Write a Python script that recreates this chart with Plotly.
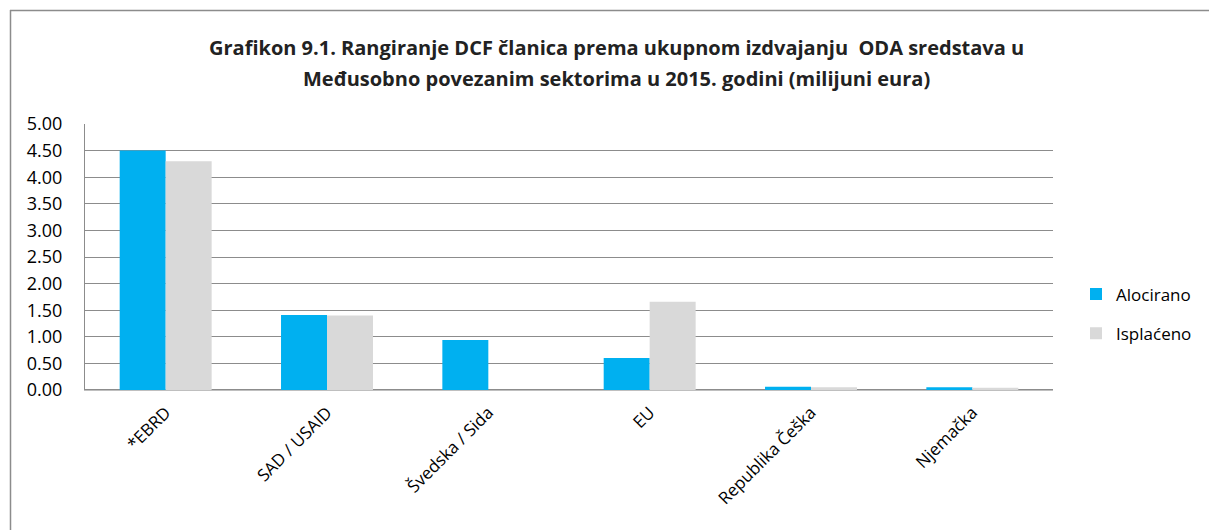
import plotly.graph_objects as go

categories = ["*EBRD", "SAD / USAID", "Švedska / Sida", "EU", "Republika Češka", "Njemačka"]
alocirano = [4.50, 1.41, 0.94, 0.60, 0.06, 0.05]
isplaceno = [4.30, 1.40, 0.0, 1.66, 0.05, 0.04]
y_ticks = [0, 0.5, 1, 1.5, 2, 2.5, 3, 3.5, 4, 4.5, 5]
title_lines = [
    "Grafikon 9.1. Rangiranje DCF članica prema ukupnom izdvajanju  ODA sredstava u",
    "Međusobno povezanim sektorima u 2015. godini (milijuni eura)",
]

FONT = "Open Sans"
L, R, T, B = 85, 156, 124, 140
PW, PH = 1209 - L - R, 530 - T - B


def px_x(p):
    return (p - L) / PW


def px_y(p):
    return (530 - B - p) / PH


fig = go.Figure()
fig.add_trace(go.Bar(x=categories, y=alocirano, name="Alocirano", marker_color="#00B0F0",
                     marker_line_width=0, legendgroup="a"))
fig.add_trace(go.Bar(x=categories, y=isplaceno, name="Isplaćeno", marker_color="#D9D9D9",
                     marker_line_width=0, legendgroup="b"))

annotations = [
    dict(text="<b>%s</b>" % t, xref="paper", yref="paper", x=px_x(616), y=px_y(yy),
         xanchor="center", yanchor="middle", showarrow=False,
         font=dict(family=FONT, size=20, color="#222"))
    for t, yy in zip(title_lines, [47, 78])
]

border = dict(color="#8C8C8C", width=1.5)
shapes = [
    dict(type="line", xref="paper", yref="paper", x0=px_x(10), x1=px_x(1260),
         y0=px_y(10.5), y1=px_y(10.5), line=border),
    dict(type="line", xref="paper", yref="paper", x0=px_x(10.5), x1=px_x(10.5),
         y0=px_y(10), y1=px_y(560), line=border),
]

fig.update_layout(
    width=1209, height=530,
    margin=dict(l=L, r=R, t=T, b=B, autoexpand=False),
    paper_bgcolor="white", plot_bgcolor="white",
    barmode="group", bargap=0.43, bargroupgap=0,
    font=dict(family=FONT, size=17, color="black"),
    annotations=annotations,
    shapes=shapes,
    legend=dict(x=px_x(1076), y=px_y(314), xanchor="left", yanchor="middle",
                font=dict(size=17), traceorder="grouped", tracegroupgap=14,
                itemwidth=30),
    showlegend=True,
    xaxis=dict(showline=True, linecolor="#BFBFBF", linewidth=1, ticks="",
               tickangle=-45, tickfont=dict(size=17), ticklabelstandoff=5,
               automargin=False),
    yaxis=dict(range=[0, 5], tickvals=y_ticks, tickformat=".2f",
               showgrid=True, gridcolor="#8C8C8C", gridwidth=1,
               showline=True, linecolor="#8C8C8C", linewidth=1,
               zeroline=True, zerolinecolor="#8C8C8C",
               ticks="", ticklabelstandoff=18, tickfont=dict(size=18),
               automargin=False),
)

fig.write_html(
    "out.html",
    config={"displayModeBar": False},
    post_script=(
        "document.body.style.margin='0';"
        "document.body.style.overflow='hidden';"
        "document.documentElement.style.overflow='hidden';"
    ),
)
